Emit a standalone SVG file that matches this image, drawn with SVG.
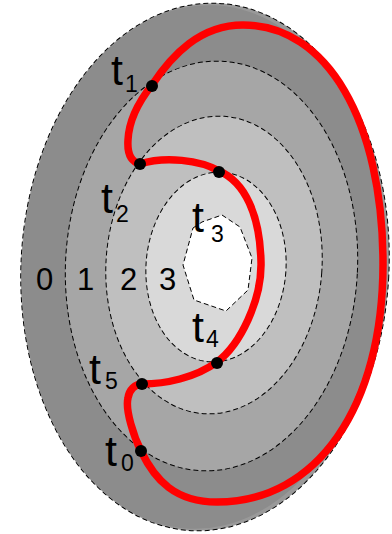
<svg xmlns="http://www.w3.org/2000/svg" width="392" height="534" viewBox="0 0 392 534">
<style>
.lvl{stroke:#000;stroke-width:1;stroke-dasharray:5 3;}
.lbl{font-family:"Liberation Sans",Arial,sans-serif;fill:#000;}
.t{font-size:43px;}
.s{font-size:23px;}
.d{font-size:31px;}
.dot{fill:#000;}
</style>
<rect width="392" height="534" fill="#fff"/>
<g id="levels">
<ellipse cx="205" cy="267" rx="184" ry="264" transform="rotate(3 205 267)" fill="#999999" class="lvl"/>
<ellipse cx="202" cy="267" rx="180" ry="262" transform="rotate(3 202 267)" fill="#8c8c8c"/>
<ellipse cx="211.5" cy="266" rx="146" ry="205" transform="rotate(3 211.5 266)" fill="#a6a6a6" class="lvl"/>
<ellipse cx="214" cy="265" rx="108" ry="149" transform="rotate(4 214 265)" fill="#bfbfbf" class="lvl"/>
<ellipse cx="216" cy="267" rx="70" ry="95" transform="rotate(4 216 267)" fill="#d9d9d9" class="lvl"/>
<polygon points="193,228 202,222 222,215 240,227 252,258 248,290 226,311 194,300 183,265" fill="#fff" class="lvl"/>
</g>
<g id="connectors">
<path d="M141,451 C134,437 125,410 128,398 C129,390 135,384 142,384 C165,384 195,378 217,362 C240,345 262,300 261,262 C260,215 245,182 219,171 C200,160 165,156 140,164 C132,162 127,155 128,140 C129,118 140,100 152,85 C172,55 200,25 243,25 C327,25 383,121 383,264 C383,407 317,502 217,502 C175,502 155,480 141,451 Z" fill="none" stroke="#ff0000" stroke-width="7.5" stroke-linejoin="round"/>
</g>
<g id="nodes">
<g id="n-t0"><circle class="dot" cx="141" cy="451" r="6"/><text class="lbl t" x="105" y="466">t</text><text class="lbl s" x="121" y="471">0</text></g>
<g id="n-t1"><circle class="dot" cx="152" cy="86" r="6"/><text class="lbl t" x="111" y="85">t</text><text class="lbl s" x="125" y="92">1</text></g>
<g id="n-t2"><circle class="dot" cx="140" cy="164" r="6"/><text class="lbl t" x="101" y="213">t</text><text class="lbl s" x="116" y="222">2</text></g>
<g id="n-t3"><circle class="dot" cx="219" cy="172" r="6"/><text class="lbl t" x="192" y="232">t</text><text class="lbl s" x="211" y="242">3</text></g>
<g id="n-t4"><circle class="dot" cx="217" cy="363" r="6"/><text class="lbl t" x="192" y="342">t</text><text class="lbl s" x="206" y="347">4</text></g>
<g id="n-t5"><circle class="dot" cx="142" cy="384" r="6"/><text class="lbl t" x="89" y="384">t</text><text class="lbl s" x="105" y="389">5</text></g>
</g>
<g id="levels-labels">
<text class="lbl d" x="36" y="290">0</text>
<text class="lbl d" x="77" y="290">1</text>
<text class="lbl d" x="120" y="290">2</text>
<text class="lbl d" x="159" y="290">3</text>
</g>
</svg>
